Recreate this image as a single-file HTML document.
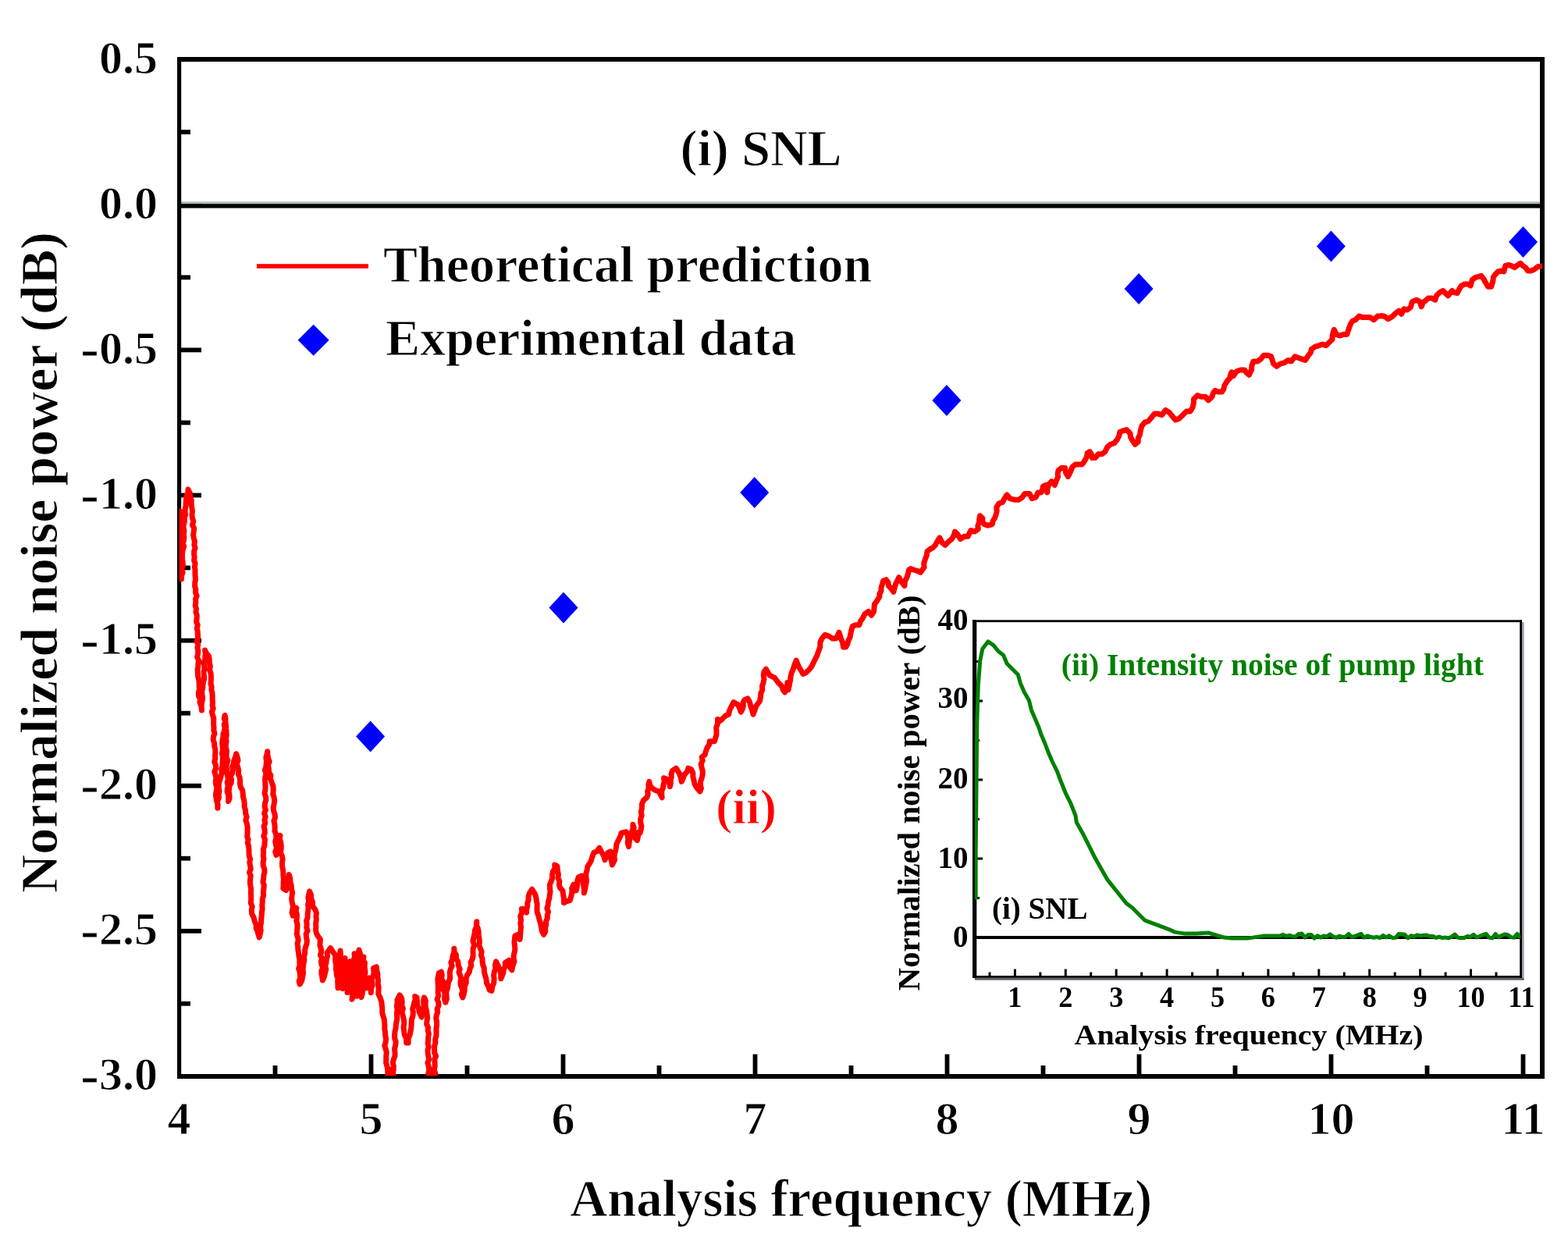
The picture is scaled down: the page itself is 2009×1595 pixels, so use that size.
<!DOCTYPE html>
<html><head><meta charset="utf-8"><title>Noise power plot</title>
<style>html,body{margin:0;padding:0;background:#fff;}svg{display:block;}</style></head>
<body><svg width="2009" height="1595" viewBox="0 0 2009 1595">
<rect x="0" y="0" width="2009" height="1595" fill="#ffffff"/>
<g fill="#000"><rect x="349.6" y="1365.0" width="5.8" height="14.0"/><rect x="472.6" y="1350.6" width="5.8" height="28.4"/><rect x="595.6" y="1365.0" width="5.8" height="14.0"/><rect x="718.6" y="1350.6" width="5.8" height="28.4"/><rect x="841.6" y="1365.0" width="5.8" height="14.0"/><rect x="964.6" y="1350.6" width="5.8" height="28.4"/><rect x="1087.6" y="1365.0" width="5.8" height="14.0"/><rect x="1210.6" y="1350.6" width="5.8" height="28.4"/><rect x="1333.6" y="1365.0" width="5.8" height="14.0"/><rect x="1456.6" y="1350.6" width="5.8" height="28.4"/><rect x="1579.6" y="1365.0" width="5.8" height="14.0"/><rect x="1702.6" y="1350.6" width="5.8" height="28.4"/><rect x="1825.6" y="1365.0" width="5.8" height="14.0"/><rect x="1948.6" y="1350.6" width="5.8" height="28.4"/><rect x="229" y="73.3" width="29" height="5.8"/><rect x="229" y="166.3" width="15" height="5.8"/><rect x="229" y="259.4" width="29" height="5.8"/><rect x="229" y="352.5" width="15" height="5.8"/><rect x="229" y="445.5" width="29" height="5.8"/><rect x="229" y="538.6" width="15" height="5.8"/><rect x="229" y="631.6" width="29" height="5.8"/><rect x="229" y="724.6" width="15" height="5.8"/><rect x="229" y="817.7" width="29" height="5.8"/><rect x="229" y="910.8" width="15" height="5.8"/><rect x="229" y="1003.8" width="29" height="5.8"/><rect x="229" y="1096.8" width="15" height="5.8"/><rect x="229" y="1189.9" width="29" height="5.8"/><rect x="229" y="1282.9" width="15" height="5.8"/><rect x="229" y="1376.0" width="29" height="5.8"/></g>
<rect x="229" y="258.3" width="1747" height="3" fill="#a9bdbd"/>
<rect x="229" y="261.2" width="1747" height="5.4" fill="#000"/>
<g fill="#000"><rect x="227" y="73" width="5.2" height="1309"/><rect x="1973" y="73" width="6" height="1309"/><rect x="227" y="73" width="1752" height="6"/><rect x="227" y="1376" width="1752" height="6"/></g>
<clipPath id="cp"><rect x="229.6" y="76" width="1746.4" height="1302.2"/></clipPath>
<path d="M230.5,655.0 L231.0,659.1 L231.5,663.2 L230.4,667.3 L231.9,671.3 L230.9,675.5 L231.4,679.5 L232.2,683.6 L231.2,687.7 L232.4,691.8 L231.6,695.9 L231.5,700.0 L232.6,704.2 L232.7,708.4 L232.0,712.6 L231.1,716.8 L232.9,721.0 L232.8,725.2 L231.9,729.4 L231.2,733.6 L232.2,737.8 L232.5,742.0 L232.6,737.6 L234.2,733.3 L232.3,728.7 L234.6,724.5 L234.0,720.0 L233.7,716.0 L233.5,712.0 L233.7,708.0 L234.3,704.0 L235.7,700.0 L234.4,696.0 L235.5,692.0 L235.9,688.0 L235.4,684.0 L236.0,680.0 L235.1,675.9 L235.3,671.9 L236.5,668.0 L236.1,663.9 L237.5,660.0 L237.2,656.0 L237.2,652.0 L238.1,648.0 L238.1,644.0 L238.5,640.0 L238.9,635.6 L240.9,631.5 L241.0,627.0 L243.5,632.0 L243.6,636.7 L245.3,641.1 L245.1,645.8 L245.8,650.4 L246.5,655.0 L245.9,659.4 L246.5,663.8 L247.8,668.1 L246.3,672.6 L248.7,676.8 L248.2,681.2 L247.6,685.7 L248.5,690.0 L249.5,694.0 L248.8,698.0 L250.1,702.0 L248.7,706.0 L248.6,710.0 L249.2,714.0 L248.6,718.0 L250.1,722.0 L249.4,726.0 L250.0,730.0 L249.9,734.2 L250.1,738.3 L250.5,742.5 L249.7,746.7 L249.6,750.9 L250.8,755.0 L250.5,759.2 L252.1,763.3 L250.6,767.5 L250.9,771.7 L250.2,775.9 L251.5,780.0 L250.9,784.2 L252.3,788.3 L252.1,792.5 L251.6,796.7 L253.3,800.8 L252.3,805.0 L253.2,809.1 L253.4,813.3 L253.7,817.5 L252.1,821.7 L253.8,825.8 L253.0,830.0 L253.8,834.0 L253.6,838.0 L252.6,842.0 L254.6,846.0 L253.9,850.0 L253.8,854.0 L253.1,858.0 L253.4,862.0 L253.5,866.0 L254.5,870.0 L255.2,874.3 L255.1,878.6 L255.5,882.8 L254.4,887.2 L254.5,891.5 L256.6,895.7 L256.0,900.0 L258.0,904.8 L258.5,910.0 L258.1,905.9 L258.3,901.9 L259.1,897.8 L259.6,893.8 L259.0,889.7 L258.6,885.6 L259.8,881.6 L259.9,877.6 L260.6,873.5 L261.7,869.5 L261.3,865.4 L261.1,861.4 L261.6,857.3 L261.9,853.3 L260.7,849.2 L262.9,845.2 L262.8,841.1 L263.3,837.1 L262.6,833.0 L264.5,837.2 L267.6,840.6 L268.2,845.0 L268.4,849.4 L269.4,853.7 L268.5,858.2 L270.1,862.5 L270.4,866.9 L270.4,871.3 L270.0,875.7 L271.1,879.7 L270.9,883.7 L271.9,887.7 L272.2,891.6 L272.1,895.7 L272.5,899.7 L272.1,903.7 L273.2,907.7 L271.4,911.8 L272.3,915.8 L273.7,919.7 L273.7,923.7 L273.7,927.8 L274.0,931.8 L273.9,935.8 L275.0,939.8 L273.4,943.9 L273.2,947.9 L274.6,951.9 L274.7,955.9 L275.8,959.9 L275.9,964.0 L275.5,968.0 L275.8,972.0 L274.6,976.1 L276.4,980.1 L276.8,984.1 L274.8,988.2 L275.9,992.2 L277.0,996.2 L276.3,1000.3 L276.5,1004.6 L278.0,1008.9 L277.2,1013.4 L276.4,1017.9 L277.0,1022.2 L277.7,1026.6 L279.1,1030.9 L278.8,1035.3 L278.8,1030.9 L278.6,1026.5 L280.4,1022.2 L280.1,1017.8 L281.0,1013.5 L280.3,1009.0 L280.3,1004.6 L281.3,1000.3 L282.9,995.4 L284.1,990.4 L283.8,985.2 L284.9,981.2 L285.0,977.1 L285.3,973.1 L285.4,969.0 L284.4,964.9 L285.4,960.9 L285.2,956.8 L284.7,952.7 L284.9,948.7 L285.8,944.6 L286.0,940.6 L287.3,936.6 L288.2,932.6 L287.2,928.4 L288.6,924.5 L289.0,920.4 L288.1,916.3 L287.2,920.6 L288.9,924.7 L289.5,928.9 L289.7,933.2 L290.0,937.4 L290.3,941.6 L289.5,945.9 L290.1,950.1 L289.2,954.2 L289.5,958.2 L290.5,962.2 L290.2,966.2 L290.0,970.3 L291.9,974.2 L290.6,978.3 L290.1,982.3 L290.6,986.4 L290.8,990.4 L291.6,994.4 L292.4,998.4 L291.1,1002.4 L292.3,1006.4 L291.3,1010.5 L291.1,1014.5 L292.6,1018.5 L292.7,1022.5 L292.6,1026.6 L294.1,1022.7 L294.0,1018.7 L293.2,1014.5 L293.5,1010.5 L294.0,1006.5 L296.3,1002.8 L296.5,998.7 L295.4,994.6 L297.5,990.8 L298.3,986.8 L297.6,982.7 L299.2,978.6 L299.8,974.1 L301.5,970.0 L302.6,965.7 L304.1,969.9 L305.0,974.1 L303.4,978.8 L304.8,983.0 L305.7,987.3 L305.3,991.8 L307.1,995.9 L307.6,1000.3 L307.5,1004.4 L308.4,1008.4 L310.6,1012.2 L311.2,1016.2 L311.4,1020.3 L312.5,1024.6 L313.2,1029.0 L313.1,1033.5 L314.5,1037.8 L314.7,1042.2 L316.0,1046.5 L314.8,1051.1 L316.4,1055.4 L317.1,1059.4 L317.1,1063.5 L317.1,1067.6 L316.7,1071.8 L318.1,1075.7 L317.3,1079.9 L318.6,1083.9 L318.9,1088.0 L319.0,1092.2 L319.2,1096.5 L320.6,1100.6 L319.8,1104.9 L320.6,1109.1 L321.2,1113.4 L319.5,1117.7 L321.2,1121.9 L320.7,1126.1 L320.3,1130.4 L320.9,1134.6 L321.6,1138.8 L321.4,1143.1 L321.6,1147.7 L321.7,1152.3 L321.3,1156.9 L323.2,1161.4 L322.3,1166.1 L322.7,1170.7 L325.1,1175.5 L326.4,1180.7 L328.1,1184.6 L328.1,1188.9 L329.9,1192.7 L330.9,1196.8 L332.2,1200.8 L333.3,1196.2 L334.2,1191.7 L333.5,1187.0 L334.5,1182.4 L334.7,1177.8 L335.2,1173.2 L335.4,1168.9 L336.1,1164.5 L335.8,1160.2 L336.2,1155.9 L336.3,1151.5 L337.6,1147.3 L337.3,1142.9 L337.9,1138.6 L338.3,1134.3 L336.9,1129.9 L337.7,1125.6 L337.9,1121.4 L338.9,1117.2 L338.7,1113.0 L337.1,1108.8 L337.1,1104.7 L338.0,1100.5 L337.2,1096.3 L337.6,1092.1 L337.3,1088.0 L338.8,1083.8 L339.1,1079.6 L339.5,1075.5 L337.8,1071.2 L339.2,1067.1 L339.1,1062.9 L338.0,1058.7 L339.8,1054.6 L338.9,1050.4 L340.2,1046.2 L338.5,1041.9 L340.4,1037.7 L339.1,1033.5 L339.5,1029.2 L340.8,1025.0 L340.5,1020.8 L339.0,1016.5 L339.8,1012.3 L340.1,1008.1 L339.8,1003.8 L339.5,999.6 L339.9,995.4 L341.0,991.2 L339.4,986.9 L340.7,982.7 L341.2,978.7 L341.4,974.7 L340.8,970.6 L341.9,966.6 L342.7,962.7 L342.9,967.1 L343.6,971.4 L345.2,975.7 L343.4,980.3 L344.4,984.7 L344.4,989.1 L346.9,993.3 L346.5,997.7 L348.3,1002.6 L350.0,1007.5 L350.2,1012.8 L349.7,1017.1 L351.1,1021.4 L351.7,1025.7 L351.1,1030.1 L350.2,1034.5 L350.6,1038.8 L352.1,1043.1 L352.5,1047.4 L350.9,1051.8 L351.9,1056.1 L352.2,1060.4 L352.0,1064.8 L353.7,1069.1 L353.9,1073.5 L352.7,1078.0 L353.5,1082.3 L354.6,1086.7 L352.7,1091.2 L354.0,1095.5 L355.1,1091.4 L356.4,1087.3 L355.5,1082.8 L358.2,1078.9 L357.1,1074.4 L359.0,1070.4 L358.4,1074.9 L359.7,1079.2 L360.3,1083.6 L360.1,1088.0 L359.5,1092.4 L361.4,1096.7 L362.1,1101.1 L361.5,1105.5 L361.6,1109.6 L362.4,1113.6 L362.9,1117.7 L362.9,1121.8 L363.4,1125.8 L363.2,1129.9 L363.1,1134.0 L362.8,1138.1 L366.5,1140.6 L366.8,1136.5 L368.6,1132.7 L368.3,1128.5 L369.5,1124.6 L370.3,1120.6 L371.7,1125.0 L371.9,1129.7 L373.3,1134.2 L373.4,1138.8 L374.6,1143.4 L374.0,1148.1 L373.7,1152.3 L374.3,1156.5 L375.4,1160.6 L374.9,1164.8 L374.0,1169.1 L375.3,1173.2 L376.7,1167.8 L379.8,1163.2 L379.2,1167.4 L380.4,1171.5 L380.4,1175.7 L379.8,1179.9 L381.0,1184.0 L381.0,1188.2 L380.7,1192.4 L380.2,1196.6 L381.6,1200.8 L382.1,1204.7 L381.1,1208.8 L381.6,1212.8 L381.9,1216.8 L382.6,1220.8 L382.9,1224.8 L383.8,1228.8 L383.8,1232.8 L384.1,1236.8 L382.6,1240.9 L384.0,1244.8 L384.4,1248.8 L384.7,1252.8 L383.1,1256.9 L384.1,1260.9 L386.8,1256.2 L387.8,1250.9 L388.6,1246.7 L388.1,1242.5 L388.5,1238.3 L389.0,1234.1 L389.8,1230.0 L389.5,1225.7 L390.6,1221.6 L390.6,1217.4 L391.6,1213.3 L393.0,1209.2 L393.3,1205.0 L392.5,1200.8 L392.1,1196.5 L394.1,1192.5 L392.8,1188.2 L393.2,1184.0 L392.6,1179.8 L394.1,1175.7 L394.1,1171.4 L394.7,1167.2 L395.0,1163.0 L394.6,1158.7 L395.7,1154.5 L394.8,1150.2 L395.7,1146.0 L396.6,1141.9 L398.5,1146.4 L398.7,1151.2 L400.5,1155.7 L400.4,1160.7 L404.1,1165.7 L405.4,1169.9 L404.9,1174.2 L405.3,1178.5 L404.6,1182.9 L404.9,1187.1 L404.6,1191.5 L405.4,1195.7 L407.6,1199.7 L410.4,1203.3 L410.1,1207.3 L409.9,1211.4 L411.3,1215.4 L411.7,1219.4 L410.4,1223.6 L412.6,1227.5 L411.5,1231.6 L411.9,1235.7 L413.6,1239.6 L411.9,1243.8 L412.0,1247.8 L412.8,1251.9 L413.4,1255.9 L415.5,1251.1 L416.6,1245.9 L417.8,1241.8 L416.6,1237.4 L418.0,1233.3 L418.3,1229.2 L419.5,1225.1 L419.1,1220.8 L423.4,1214.5 L427.4,1220.8 L430.0,1224.0 L429.6,1228.2 L429.8,1232.4 L430.7,1236.5 L430.3,1240.8 L431.1,1244.9 L431.3,1249.1 L432.7,1253.2 L433.5,1257.3 L433.6,1261.5 L433.0,1265.8 L432.9,1261.4 L432.6,1257.0 L434.6,1252.8 L434.2,1248.4 L434.7,1244.1 L434.9,1239.7 L435.3,1235.4 L435.2,1231.0 L434.3,1226.6 L436.4,1222.4 L436.0,1218.0 L435.7,1222.1 L436.5,1226.1 L436.7,1230.1 L436.6,1234.2 L438.3,1238.1 L436.9,1242.3 L438.3,1246.3 L439.0,1250.3 L438.8,1254.3 L438.0,1258.5 L439.5,1262.4 L439.0,1266.5 L439.9,1262.2 L440.8,1257.9 L440.0,1253.5 L440.1,1249.1 L440.6,1244.8 L441.4,1240.5 L442.0,1236.2 L441.9,1231.8 L442.0,1227.4 L441.9,1231.5 L443.6,1235.4 L443.7,1239.4 L443.7,1243.4 L442.8,1247.5 L444.1,1251.4 L443.7,1255.5 L445.3,1259.4 L445.5,1263.4 L445.3,1267.5 L445.0,1271.5 L445.7,1267.1 L446.1,1262.7 L446.4,1258.3 L445.8,1253.8 L446.7,1249.4 L446.9,1245.0 L447.3,1240.5 L446.8,1236.1 L448.0,1231.7 L447.3,1235.8 L449.2,1239.8 L447.6,1243.9 L448.0,1248.0 L450.4,1251.9 L449.6,1256.0 L449.0,1260.1 L448.9,1264.1 L450.4,1268.1 L451.1,1272.1 L451.4,1276.2 L451.0,1280.2 L452.3,1276.1 L450.7,1271.8 L451.8,1267.7 L451.0,1263.5 L452.1,1259.3 L453.4,1255.2 L451.6,1250.9 L453.5,1246.8 L452.9,1242.6 L454.1,1238.5 L453.8,1234.2 L452.9,1230.0 L454.7,1225.9 L454.0,1221.7 L454.3,1225.9 L455.6,1230.0 L455.9,1234.2 L454.9,1238.5 L455.3,1242.7 L455.9,1246.8 L456.5,1251.0 L456.2,1255.2 L456.5,1259.4 L455.5,1263.7 L457.7,1267.8 L456.2,1272.1 L457.0,1276.2 L458.0,1272.1 L456.5,1267.7 L458.7,1263.6 L458.4,1259.3 L459.0,1255.1 L457.8,1250.8 L458.2,1246.6 L458.5,1242.4 L460.1,1238.2 L459.4,1233.9 L459.0,1229.7 L459.4,1225.5 L459.2,1221.2 L460.0,1217.0 L461.3,1221.0 L461.4,1225.0 L459.8,1229.1 L461.3,1233.1 L460.0,1237.2 L461.8,1241.2 L462.0,1245.2 L461.6,1249.3 L462.5,1253.3 L462.3,1257.3 L461.1,1261.4 L461.5,1265.4 L461.9,1269.5 L462.5,1273.5 L463.0,1277.5 L464.2,1273.3 L464.6,1269.0 L463.9,1264.6 L464.5,1260.3 L463.2,1255.9 L465.1,1251.7 L464.6,1247.4 L465.6,1243.1 L465.6,1238.8 L465.0,1234.4 L464.7,1230.1 L466.0,1225.9 L465.3,1229.9 L467.5,1233.8 L467.0,1237.9 L467.6,1241.9 L468.0,1245.9 L467.2,1250.0 L467.0,1254.0 L469.0,1257.9 L468.3,1262.0 L469.0,1266.0 L469.8,1261.5 L471.7,1257.3 L472.9,1252.9 L473.8,1257.5 L474.9,1262.2 L475.5,1266.9 L475.3,1271.7 L475.0,1267.1 L477.1,1262.8 L476.6,1258.2 L476.4,1253.7 L478.5,1249.4 L479.1,1244.9 L478.4,1240.3 L482.3,1238.7 L482.7,1243.0 L483.8,1247.3 L483.9,1251.6 L484.5,1255.9 L484.2,1260.3 L485.1,1264.5 L485.0,1268.9 L484.7,1273.2 L487.0,1277.9 L488.8,1283.3 L489.4,1288.9 L489.8,1293.0 L489.7,1297.2 L490.7,1301.2 L492.1,1305.2 L492.5,1309.3 L492.9,1313.6 L492.8,1317.9 L493.4,1322.2 L493.7,1326.5 L494.5,1330.8 L494.2,1335.1 L492.8,1339.5 L494.1,1343.8 L495.3,1348.1 L494.8,1352.5 L494.8,1357.0 L494.6,1361.4 L495.8,1365.7 L496.7,1370.4 L496.8,1375.1 L497.1,1379.8 L496.7,1384.5 L497.0,1379.8 L497.7,1375.1 L498.3,1370.4 L497.7,1375.2 L498.5,1379.9 L499.9,1384.5 L501.3,1379.9 L499.8,1375.0 L501.4,1370.4 L503.1,1375.0 L502.0,1379.9 L503.0,1384.5 L504.3,1379.9 L503.6,1375.1 L504.2,1370.4 L504.3,1365.7 L503.3,1361.2 L504.5,1356.9 L506.0,1352.6 L506.0,1348.2 L505.5,1343.8 L506.6,1339.4 L507.2,1334.9 L505.7,1330.4 L505.6,1325.9 L506.0,1321.5 L507.1,1317.1 L507.3,1313.1 L507.9,1309.1 L508.8,1305.2 L508.5,1301.1 L508.5,1297.1 L509.0,1293.1 L508.4,1289.1 L508.9,1285.1 L509.0,1281.1 L512.1,1274.8 L514.7,1279.1 L515.2,1284.2 L514.8,1288.3 L516.4,1292.2 L515.0,1296.3 L515.9,1300.2 L517.0,1304.2 L517.7,1308.2 L517.7,1312.2 L517.0,1316.3 L517.6,1320.3 L518.2,1325.6 L520.6,1330.5 L520.7,1335.9 L523.1,1335.9 L523.1,1330.5 L525.2,1325.5 L526.2,1320.3 L527.0,1315.6 L527.2,1310.8 L527.4,1306.1 L529.0,1301.5 L529.3,1296.7 L528.6,1292.5 L529.8,1288.5 L530.7,1284.5 L532.3,1280.6 L531.7,1276.4 L534.0,1277.9 L534.5,1282.7 L534.7,1287.5 L536.5,1292.0 L537.2,1296.7 L540.3,1303.0 L540.2,1298.8 L540.8,1294.6 L543.0,1290.6 L542.9,1286.4 L542.5,1282.1 L543.4,1277.9 L545.4,1282.0 L545.0,1286.6 L545.4,1290.9 L546.6,1295.2 L547.0,1299.3 L547.7,1303.5 L547.0,1307.7 L546.6,1312.0 L548.5,1316.0 L548.2,1320.3 L549.4,1324.4 L548.7,1328.5 L548.6,1332.6 L548.1,1336.8 L549.3,1340.9 L548.0,1345.1 L548.2,1349.2 L548.8,1353.3 L549.6,1357.4 L547.9,1361.6 L549.1,1365.7 L549.8,1370.4 L548.8,1375.1 L550.4,1379.8 L550.0,1384.5 L549.9,1379.7 L551.7,1375.2 L551.6,1370.4 L552.6,1375.1 L551.6,1379.9 L553.2,1384.5 L553.7,1379.8 L553.5,1375.0 L554.7,1370.4 L555.9,1375.0 L556.0,1379.8 L556.3,1384.5 L556.9,1379.8 L557.8,1375.2 L556.2,1370.4 L557.2,1365.7 L557.1,1361.4 L556.7,1357.2 L558.6,1353.0 L556.7,1348.7 L556.6,1344.4 L556.7,1340.2 L557.9,1335.9 L557.7,1331.4 L559.0,1327.0 L559.1,1322.5 L558.9,1318.0 L559.6,1313.6 L559.6,1309.1 L558.7,1304.6 L559.3,1300.6 L560.7,1296.7 L560.1,1292.5 L562.0,1288.4 L561.7,1284.2 L560.1,1280.0 L561.7,1275.9 L561.2,1271.7 L561.3,1267.5 L561.3,1263.3 L561.1,1259.1 L560.8,1254.9 L561.6,1250.7 L562.3,1246.6 L565.4,1245.0 L566.3,1249.3 L565.5,1253.8 L568.0,1257.8 L567.7,1262.3 L567.3,1266.8 L569.7,1270.9 L570.0,1275.4 L569.5,1279.9 L570.9,1284.2 L572.3,1279.9 L572.0,1275.4 L571.7,1270.9 L573.3,1266.6 L574.0,1262.3 L574.5,1258.0 L576.6,1254.1 L576.4,1249.7 L576.3,1245.5 L577.3,1241.5 L579.2,1237.6 L577.8,1233.2 L579.5,1229.3 L580.1,1224.6 L581.8,1220.1 L581.8,1215.2 L582.0,1219.5 L584.5,1223.4 L584.2,1227.8 L586.8,1232.1 L587.3,1237.2 L589.2,1241.2 L587.9,1245.7 L589.7,1249.7 L590.7,1253.7 L590.0,1257.8 L590.1,1261.9 L591.9,1265.8 L592.5,1269.8 L591.3,1274.0 L592.8,1277.9 L594.3,1273.3 L595.2,1268.5 L595.4,1263.7 L597.3,1259.2 L597.1,1254.3 L598.3,1249.7 L601.4,1245.0 L602.1,1240.9 L603.8,1237.2 L603.1,1232.7 L605.3,1228.5 L606.2,1224.1 L606.0,1219.7 L606.1,1215.2 L607.7,1210.6 L605.9,1205.7 L606.9,1201.1 L608.0,1196.4 L608.5,1191.7 L610.7,1186.5 L610.8,1180.8 L610.4,1185.2 L612.3,1189.3 L613.2,1193.6 L613.2,1198.0 L614.0,1202.3 L614.4,1206.6 L613.9,1211.1 L615.5,1215.2 L617.1,1219.3 L616.4,1223.7 L617.9,1227.8 L618.1,1232.1 L618.7,1236.3 L620.3,1240.3 L620.4,1245.1 L621.6,1249.8 L623.0,1254.4 L623.4,1259.1 L625.7,1263.7 L627.3,1268.5 L630.0,1269.4 L630.7,1264.1 L632.8,1259.1 L633.1,1253.8 L632.6,1249.3 L633.4,1244.9 L635.1,1240.7 L634.4,1236.1 L635.5,1231.8 L638.6,1238.1 L640.7,1243.1 L641.8,1248.3 L641.8,1253.8 L643.4,1249.9 L644.9,1245.9 L645.3,1241.7 L647.6,1237.8 L647.2,1233.4 L651.9,1230.3 L652.4,1234.7 L653.4,1239.0 L655.9,1242.8 L656.9,1237.1 L659.0,1231.8 L658.1,1227.7 L658.2,1223.6 L659.3,1219.5 L659.9,1215.4 L659.4,1211.2 L658.9,1207.1 L659.5,1203.0 L659.8,1198.9 L663.7,1197.3 L666.1,1203.6 L666.5,1199.5 L666.8,1195.5 L667.1,1191.4 L667.5,1187.3 L666.8,1183.2 L667.6,1178.6 L666.7,1173.7 L668.8,1169.2 L668.4,1164.4 L671.5,1164.4 L674.7,1169.1 L674.6,1165.0 L675.8,1161.0 L675.8,1156.9 L677.1,1152.9 L677.0,1148.7 L678.7,1143.7 L681.7,1139.3 L685.6,1145.6 L686.8,1149.8 L687.4,1154.1 L688.2,1158.4 L688.0,1162.9 L688.1,1168.3 L689.9,1173.3 L691.1,1178.5 L692.6,1183.1 L693.5,1187.9 L694.3,1192.6 L696.6,1197.3 L698.8,1193.4 L698.7,1189.0 L699.7,1184.8 L699.5,1180.6 L701.3,1176.5 L701.3,1172.3 L702.5,1168.2 L700.8,1163.8 L702.1,1159.7 L702.5,1155.3 L703.8,1151.0 L704.3,1146.6 L705.0,1142.3 L704.5,1137.8 L704.4,1133.3 L706.1,1129.3 L707.6,1125.2 L707.5,1120.8 L708.4,1116.5 L711.1,1112.5 L710.7,1108.0 L713.9,1109.6 L714.4,1115.1 L715.4,1120.5 L715.0,1125.0 L716.9,1129.1 L716.3,1133.6 L717.8,1137.8 L720.9,1140.9 L721.6,1146.1 L722.5,1151.3 L722.5,1156.6 L725.6,1155.0 L730.3,1153.4 L731.8,1148.3 L732.9,1143.2 L732.7,1137.8 L735.0,1133.1 L737.5,1136.6 L738.2,1140.9 L739.2,1136.6 L740.0,1132.3 L739.8,1127.9 L741.3,1123.7 L745.2,1122.1 L746.1,1126.4 L747.3,1130.8 L747.8,1135.2 L748.3,1139.6 L748.3,1144.0 L749.7,1138.6 L750.7,1133.1 L751.5,1128.4 L750.9,1123.6 L750.9,1118.8 L752.2,1114.2 L753.0,1109.6 L755.4,1106.4 L757.4,1102.7 L758.5,1098.6 L760.9,1092.3 L764.8,1090.8 L767.9,1086.1 L771.1,1092.3 L773.7,1096.7 L775.0,1101.7 L776.5,1096.8 L778.9,1092.3 L782.0,1090.8 L783.3,1095.0 L782.5,1099.5 L783.7,1103.7 L784.4,1108.0 L787.5,1101.7 L787.0,1097.5 L787.5,1093.5 L788.7,1089.5 L789.5,1085.4 L789.9,1081.3 L793.0,1075.1 L794.9,1071.3 L796.1,1067.2 L802.4,1065.7 L804.2,1070.2 L804.8,1074.9 L804.3,1079.9 L805.5,1084.5 L806.1,1080.1 L806.6,1075.8 L807.4,1071.5 L808.7,1067.2 L810.9,1062.0 L811.0,1056.3 L812.1,1060.5 L812.1,1064.9 L813.1,1069.2 L813.4,1073.5 L816.5,1076.6 L817.5,1071.1 L818.9,1065.7 L820.0,1067.3 L821.2,1062.9 L821.9,1058.4 L820.7,1053.8 L820.6,1049.3 L822.2,1044.9 L821.3,1040.3 L822.4,1035.9 L822.4,1030.2 L824.7,1025.0 L828.6,1021.8 L830.2,1017.9 L829.7,1013.6 L831.3,1009.7 L830.9,1005.5 L831.8,1001.4 L832.5,1005.7 L834.9,1009.3 L839.6,1012.4 L844.3,1014.0 L846.3,1017.9 L848.2,1021.8 L847.8,1017.6 L847.8,1013.4 L849.5,1009.3 L850.1,1005.1 L851.2,1001.0 L850.6,996.7 L854.5,998.3 L857.4,1002.6 L858.4,1007.7 L859.3,1003.7 L859.3,999.5 L860.3,995.5 L860.1,991.3 L861.5,987.3 L866.2,984.2 L870.2,990.5 L872.2,995.8 L873.3,1001.4 L875.3,996.8 L877.2,992.0 L880.4,988.6 L881.9,984.2 L885.8,985.8 L887.8,990.3 L887.9,995.2 L889.0,999.9 L890.2,1004.9 L892.9,1009.3 L896.8,1014.0 L898.5,1009.8 L897.3,1005.3 L897.7,1000.9 L899.2,996.7 L900.2,992.3 L900.3,987.9 L899.1,983.4 L898.1,979.0 L900.2,974.5 L899.2,970.1 L903.1,967.0 L904.4,962.2 L906.2,957.6 L908.7,954.0 L909.3,949.7 L915.6,949.7 L916.7,945.6 L917.9,941.5 L918.0,937.2 L917.7,931.9 L919.7,926.8 L919.5,921.5 L923.4,923.1 L926.6,919.9 L929.7,916.8 L933.6,915.2 L934.6,910.3 L936.8,905.8 L939.9,899.6 L945.4,902.7 L947.6,907.3 L949.3,912.1 L951.3,908.4 L952.4,904.5 L952.1,900.1 L954.0,896.4 L957.9,894.9 L960.5,899.3 L961.8,904.3 L963.6,909.7 L965.0,915.2 L967.0,909.8 L968.9,904.3 L973.6,898.0 L974.4,893.2 L974.8,888.4 L976.7,883.9 L976.5,879.1 L978.1,874.5 L978.9,869.9 L978.3,865.1 L978.9,860.8 L981.4,857.2 L983.7,861.2 L986.1,865.1 L992.4,868.2 L997.1,874.5 L1001.8,879.2 L1003.2,883.4 L1005.7,887.0 L1005.7,882.6 L1008.6,878.9 L1008.9,874.5 L1010.3,879.0 L1010.0,883.8 L1011.0,879.5 L1011.7,875.2 L1012.7,870.9 L1013.1,866.5 L1014.3,861.7 L1016.3,857.1 L1018.0,851.6 L1020.2,846.1 L1022.0,850.9 L1024.1,855.5 L1026.6,859.4 L1028.8,863.4 L1032.7,861.8 L1037.4,857.1 L1040.1,853.4 L1042.1,849.3 L1044.4,844.5 L1046.8,839.9 L1048.7,834.3 L1050.8,828.9 L1050.8,823.2 L1053.1,817.9 L1057.0,813.2 L1061.7,814.8 L1066.4,817.9 L1071.1,817.9 L1073.3,814.1 L1075.0,810.1 L1076.2,814.0 L1077.4,817.9 L1079.6,823.2 L1080.5,828.9 L1083.7,828.9 L1085.8,825.2 L1086.8,821.1 L1089.0,816.6 L1089.9,811.7 L1091.0,806.9 L1092.3,802.3 L1096.2,800.7 L1100.9,800.7 L1102.2,796.4 L1104.8,792.9 L1108.0,786.6 L1112.7,783.4 L1116.6,788.2 L1119.7,783.4 L1120.0,778.7 L1120.5,774.0 L1122.9,770.9 L1126.8,764.6 L1127.0,760.5 L1129.1,756.8 L1129.0,752.5 L1130.5,748.4 L1131.5,744.3 L1135.4,742.7 L1137.9,746.3 L1138.5,750.5 L1141.7,753.7 L1144.8,758.4 L1146.2,752.8 L1147.9,747.4 L1149.9,743.5 L1151.8,739.6 L1154.2,744.3 L1158.9,750.5 L1159.4,744.7 L1162.0,739.6 L1163.5,734.9 L1164.4,730.2 L1166.7,728.6 L1171.4,730.2 L1176.1,731.7 L1179.3,733.3 L1184.0,727.0 L1183.8,721.4 L1185.5,716.1 L1187.3,711.5 L1187.9,706.6 L1191.8,703.5 L1195.0,701.9 L1198.1,698.8 L1200.0,695.2 L1203.9,688.9 L1207.1,695.2 L1211.0,698.3 L1215.7,693.6 L1219.6,690.5 L1222.2,686.0 L1223.5,681.1 L1226.6,684.2 L1230.6,690.5 L1235.3,687.3 L1240.0,687.3 L1242.0,683.4 L1243.9,679.5 L1248.6,681.1 L1253.3,677.9 L1252.8,673.5 L1254.5,669.3 L1254.8,665.0 L1255.6,660.7 L1258.8,663.8 L1258.9,668.1 L1261.1,671.7 L1265.8,673.2 L1271.3,671.7 L1272.1,667.4 L1274.5,663.8 L1276.1,659.3 L1277.2,654.6 L1276.8,649.7 L1279.9,645.0 L1284.6,643.4 L1287.0,638.7 L1290.1,634.0 L1294.0,638.7 L1300.3,640.3 L1305.0,640.3 L1309.7,637.2 L1312.9,632.5 L1319.1,632.5 L1322.3,638.7 L1327.0,637.2 L1330.1,630.9 L1334.0,630.9 L1335.7,627.2 L1336.4,623.1 L1339.5,621.5 L1339.9,626.4 L1341.8,630.9 L1342.3,625.3 L1344.2,619.9 L1347.3,616.8 L1351.3,621.5 L1353.6,615.2 L1355.5,611.3 L1355.2,606.9 L1356.0,602.7 L1359.9,599.6 L1364.6,599.6 L1365.5,605.4 L1368.5,610.5 L1371.6,604.3 L1374.0,598.0 L1377.9,594.9 L1381.8,594.9 L1386.5,594.9 L1388.9,591.7 L1390.0,589.7 L1392.5,585.3 L1393.1,580.3 L1396.3,578.7 L1398.6,582.3 L1399.4,586.5 L1403.3,586.5 L1407.2,581.8 L1411.9,581.8 L1415.9,578.7 L1419.0,572.4 L1422.9,569.3 L1427.6,567.7 L1431.5,563.0 L1433.8,558.5 L1434.7,553.6 L1438.6,552.0 L1443.3,550.5 L1448.0,555.2 L1448.6,560.2 L1451.1,564.6 L1454.3,569.3 L1458.2,566.1 L1458.3,561.2 L1460.5,556.7 L1461.4,551.2 L1462.9,545.8 L1466.8,541.1 L1471.5,539.5 L1475.4,534.8 L1479.3,530.1 L1484.0,530.1 L1488.7,531.7 L1493.4,525.4 L1498.2,528.5 L1502.1,533.2 L1506.0,537.9 L1510.7,536.4 L1515.4,531.7 L1520.1,527.0 L1524.8,527.0 L1527.9,522.3 L1529.3,516.9 L1529.5,511.3 L1534.2,506.6 L1538.9,508.2 L1544.4,508.2 L1548.3,512.9 L1553.0,508.2 L1554.2,503.9 L1556.9,500.3 L1560.8,501.9 L1565.5,501.9 L1568.0,498.3 L1568.7,494.0 L1572.6,487.8 L1575.7,484.6 L1576.4,480.6 L1578.1,476.8 L1580.0,481.8 L1584.7,475.5 L1589.4,474.0 L1594.9,474.0 L1597.1,477.6 L1600.4,480.3 L1603.5,474.0 L1603.9,468.3 L1605.9,463.0 L1611.3,463.0 L1615.3,459.9 L1619.2,455.2 L1623.9,455.2 L1628.6,456.7 L1630.2,461.4 L1631.7,466.1 L1635.6,469.3 L1640.3,466.1 L1645.8,464.6 L1650.5,461.4 L1654.5,463.0 L1659.2,456.7 L1663.1,458.3 L1667.8,459.9 L1672.5,461.4 L1676.4,455.2 L1679.3,451.7 L1680.3,447.3 L1685.0,444.2 L1690.5,442.6 L1694.4,441.1 L1699.1,442.6 L1703.8,437.9 L1707.0,434.8 L1707.1,430.5 L1708.0,426.3 L1709.3,422.3 L1712.4,428.5 L1716.4,430.1 L1721.1,428.5 L1725.8,428.5 L1727.3,423.8 L1728.9,419.1 L1730.5,415.0 L1732.8,411.3 L1736.7,409.7 L1741.4,405.0 L1746.1,406.6 L1750.8,406.6 L1755.5,406.6 L1760.3,409.7 L1765.0,405.0 L1768.9,405.0 L1770.0,404.5 L1774.3,405.5 L1778.5,408.7 L1783.9,405.5 L1788.1,401.3 L1792.4,398.1 L1795.6,402.3 L1798.8,395.9 L1803.0,397.0 L1807.3,393.8 L1809.4,386.4 L1814.8,384.2 L1819.0,386.4 L1821.2,392.8 L1823.3,387.4 L1826.5,385.3 L1829.7,382.1 L1835.0,382.1 L1838.8,384.2 L1840.4,378.9 L1844.6,374.6 L1848.9,372.5 L1852.1,375.7 L1855.3,378.9 L1858.5,374.6 L1860.6,372.5 L1862.8,374.6 L1867.0,375.7 L1869.7,370.4 L1872.3,366.1 L1876.6,364.0 L1880.9,364.0 L1884.1,366.1 L1886.2,358.6 L1890.5,355.4 L1894.7,354.4 L1897.9,353.3 L1901.1,357.6 L1903.3,361.8 L1906.5,367.2 L1910.7,367.2 L1912.9,359.7 L1913.4,355.0 L1916.1,351.2 L1919.3,348.0 L1923.5,346.9 L1926.7,348.0 L1928.8,340.5 L1933.1,339.4 L1936.3,340.5 L1940.6,342.6 L1944.8,339.4 L1948.0,337.3 L1951.2,340.5 L1954.4,342.6 L1957.6,346.9 L1961.9,346.9 L1966.2,344.8 L1970.4,341.6 L1974.7,341.0 L1977.9,341.0" fill="none" stroke="#ff0000" stroke-width="7" stroke-linejoin="round" stroke-linecap="round" clip-path="url(#cp)"/>
<g fill="#0000ff"><path d="M474.6,923.6 L493.1,943.6 L474.6,963.6 L456.1,943.6 Z"/><path d="M722.0,758.5 L740.5,778.5 L722.0,798.5 L703.5,778.5 Z"/><path d="M966.7,610.9 L985.2,630.9 L966.7,650.9 L948.2,630.9 Z"/><path d="M1212.9,492.9 L1231.4,512.9 L1212.9,532.9 L1194.4,512.9 Z"/><path d="M1459.1,349.9 L1477.6,369.9 L1459.1,389.9 L1440.6,369.9 Z"/><path d="M1705.4,295.6 L1723.9,315.6 L1705.4,335.6 L1686.9,315.6 Z"/><path d="M1951.5,289.9 L1970.0,309.9 L1951.5,329.9 L1933.0,309.9 Z"/><path d="M401.6,415.7 L421.6,435.7 L401.6,455.7 L381.6,435.7 Z"/></g>
<rect x="329" y="338.2" width="143" height="5.6" fill="#ff0000"/>
<g font-family="Liberation Serif, Times New Roman, serif" font-weight="bold" stroke="#fff" stroke-width="1" font-size="60" fill="#000"><text x="202" y="93.6" text-anchor="end">0.5</text><text x="202" y="279.7" text-anchor="end">0.0</text><text x="202" y="465.8" text-anchor="end"><tspan font-size="72" dy="4.6">-</tspan><tspan dy="-4.6">0.5</tspan></text><text x="202" y="651.9" text-anchor="end"><tspan font-size="72" dy="4.6">-</tspan><tspan dy="-4.6">1.0</tspan></text><text x="202" y="838.0" text-anchor="end"><tspan font-size="72" dy="4.6">-</tspan><tspan dy="-4.6">1.5</tspan></text><text x="202" y="1024.1" text-anchor="end"><tspan font-size="72" dy="4.6">-</tspan><tspan dy="-4.6">2.0</tspan></text><text x="202" y="1210.2" text-anchor="end"><tspan font-size="72" dy="4.6">-</tspan><tspan dy="-4.6">2.5</tspan></text><text x="202" y="1396.3" text-anchor="end"><tspan font-size="72" dy="4.6">-</tspan><tspan dy="-4.6">3.0</tspan></text><text x="229.5" y="1453" text-anchor="middle">4</text><text x="475.5" y="1453" text-anchor="middle">5</text><text x="721.5" y="1453" text-anchor="middle">6</text><text x="967.5" y="1453" text-anchor="middle">7</text><text x="1213.5" y="1453" text-anchor="middle">8</text><text x="1459.5" y="1453" text-anchor="middle">9</text><text x="1705.5" y="1453" text-anchor="middle">10</text><text x="1951.5" y="1453" text-anchor="middle">11</text></g>
<text font-family="Liberation Serif, Times New Roman, serif" font-weight="bold" stroke="#fff" stroke-width="1" font-size="66.6" x="1103.2" y="1557.5" text-anchor="middle" fill="#000">Analysis frequency (MHz)</text>
<text font-family="Liberation Serif, Times New Roman, serif" font-weight="bold" stroke="#fff" stroke-width="1" font-size="68" transform="translate(73,720.5) rotate(-90)" text-anchor="middle" fill="#000">Normalized noise power (dB)</text>
<text font-family="Liberation Serif, Times New Roman, serif" font-weight="bold" stroke="#fff" stroke-width="1" font-size="66" x="975" y="211.6" text-anchor="middle" fill="#000">(i) SNL</text>
<text font-family="Liberation Serif, Times New Roman, serif" font-weight="bold" stroke="#fff" stroke-width="1" font-size="66" x="491" y="361.4" fill="#000">Theoretical prediction</text>
<text font-family="Liberation Serif, Times New Roman, serif" font-weight="bold" stroke="#fff" stroke-width="1" font-size="66" x="494" y="455.3" fill="#000">Experimental data</text>
<text font-family="Liberation Serif, Times New Roman, serif" font-weight="bold" stroke="#fff" stroke-width="1" font-size="64" x="956" y="1054.7" text-anchor="middle" fill="#ff0000">(ii)</text>
<g fill="#000"><rect x="1266.5" y="1245.5" width="3" height="4.5"/><rect x="1298.9" y="1241.5" width="3" height="8.5"/><rect x="1331.4" y="1245.5" width="3" height="4.5"/><rect x="1363.8" y="1241.5" width="3" height="8.5"/><rect x="1396.2" y="1245.5" width="3" height="4.5"/><rect x="1428.7" y="1241.5" width="3" height="8.5"/><rect x="1461.2" y="1245.5" width="3" height="4.5"/><rect x="1493.6" y="1241.5" width="3" height="8.5"/><rect x="1526.1" y="1245.5" width="3" height="4.5"/><rect x="1558.5" y="1241.5" width="3" height="8.5"/><rect x="1591.0" y="1245.5" width="3" height="4.5"/><rect x="1623.4" y="1241.5" width="3" height="8.5"/><rect x="1655.9" y="1245.5" width="3" height="4.5"/><rect x="1688.3" y="1241.5" width="3" height="8.5"/><rect x="1720.8" y="1245.5" width="3" height="4.5"/><rect x="1753.2" y="1241.5" width="3" height="8.5"/><rect x="1785.7" y="1245.5" width="3" height="4.5"/><rect x="1818.1" y="1241.5" width="3" height="8.5"/><rect x="1850.6" y="1245.5" width="3" height="4.5"/><rect x="1883.0" y="1241.5" width="3" height="8.5"/><rect x="1915.5" y="1245.5" width="3" height="4.5"/><rect x="1249" y="1199.5" width="10" height="3"/><rect x="1249" y="1149.0" width="6" height="3"/><rect x="1249" y="1098.5" width="10" height="3"/><rect x="1249" y="1048.0" width="6" height="3"/><rect x="1249" y="997.5" width="10" height="3"/><rect x="1249" y="947.0" width="6" height="3"/><rect x="1249" y="896.5" width="10" height="3"/><rect x="1249" y="846.0" width="6" height="3"/></g>
<rect x="1249" y="1199" width="698" height="4" fill="#000"/>
<rect x="1950" y="797" width="2.6" height="458.7" fill="#9c9ca8"/>
<rect x="1249" y="1252.8" width="703.6" height="2.9" fill="#61616b"/>
<g fill="#000"><rect x="1246" y="794.3" width="5.3" height="458.5"/><rect x="1947.2" y="794.3" width="2.8" height="458.5"/><rect x="1246" y="794.3" width="704" height="2.8"/><rect x="1246" y="1250" width="704" height="2.8"/></g>
<clipPath id="cpi"><rect x="1249" y="795.7" width="699.6" height="455.7"/></clipPath>
<path d="M1250.2,1150.0 L1250.2,1092.0 L1251.8,925.4 L1253.3,878.4 L1255.7,847.0 L1258.8,831.3 L1265.9,821.9 L1272.9,826.6 L1279.2,834.5 L1285.5,839.2 L1290.2,850.2 L1296.4,856.4 L1304.3,864.3 L1307.4,875.2 L1312.1,886.2 L1318.4,897.2 L1321.5,909.7 L1326.2,920.7 L1330.9,931.7 L1334.0,941.1 L1338.7,952.0 L1343.4,964.6 L1348.2,975.5 L1354.4,988.1 L1359.1,1000.6 L1365.4,1016.3 L1371.7,1028.8 L1377.9,1044.5 L1379.4,1053.8 L1387.3,1067.7 L1395.3,1083.6 L1403.3,1099.6 L1411.2,1113.5 L1419.2,1127.4 L1427.2,1137.4 L1435.1,1147.3 L1443.1,1157.3 L1451.1,1163.3 L1459.0,1171.2 L1467.0,1179.2 L1474.9,1182.2 L1482.9,1185.2 L1490.9,1188.2 L1498.8,1191.1 L1504.8,1194.1 L1518.7,1196.1 L1532.7,1196.1 L1548.6,1195.1 L1558.6,1198.1 L1568.5,1201.1 L1578.5,1202.1 L1598.4,1202.1 L1618.3,1199.1 L1640.0,1199.1 L1644.0,1197.4 L1648.0,1199.3 L1652.0,1198.2 L1656.0,1199.6 L1660.0,1199.8 L1664.0,1196.4 L1668.0,1196.1 L1672.0,1201.0 L1676.0,1197.6 L1680.0,1197.4 L1684.0,1202.0 L1688.0,1198.8 L1692.0,1201.0 L1696.0,1198.9 L1700.0,1199.8 L1704.0,1196.9 L1708.0,1199.8 L1712.0,1201.2 L1716.0,1199.1 L1720.0,1200.4 L1724.0,1200.0 L1728.0,1196.4 L1732.0,1200.5 L1736.0,1199.5 L1740.0,1197.8 L1744.0,1196.2 L1748.0,1201.2 L1752.0,1198.8 L1756.0,1200.3 L1760.0,1201.3 L1764.0,1200.3 L1768.0,1201.5 L1772.0,1198.4 L1776.0,1200.8 L1780.0,1198.7 L1784.0,1201.6 L1788.0,1201.3 L1792.0,1196.6 L1796.0,1196.8 L1800.0,1197.3 L1804.0,1201.8 L1808.0,1198.6 L1812.0,1199.8 L1816.0,1197.8 L1820.0,1199.0 L1824.0,1198.3 L1828.0,1198.1 L1832.0,1199.5 L1836.0,1199.5 L1840.0,1201.4 L1844.0,1200.1 L1848.0,1201.6 L1852.0,1201.1 L1856.0,1201.9 L1860.0,1200.0 L1864.0,1197.0 L1868.0,1201.2 L1872.0,1201.8 L1876.0,1201.4 L1880.0,1199.4 L1884.0,1200.3 L1888.0,1197.3 L1892.0,1201.0 L1896.0,1199.4 L1900.0,1197.7 L1904.0,1196.4 L1908.0,1201.1 L1912.0,1201.9 L1916.0,1196.5 L1920.0,1200.8 L1924.0,1198.5 L1928.0,1196.9 L1932.0,1197.8 L1936.0,1200.6 L1940.0,1201.2 L1944.0,1196.3 L1946.0,1199.7" fill="none" stroke="#008000" stroke-width="5" stroke-linejoin="round" stroke-linecap="round" clip-path="url(#cpi)"/>
<g font-family="Liberation Serif, Times New Roman, serif" font-weight="bold" font-size="39" fill="#000"><text x="1240.5" y="1212.5" text-anchor="end">0</text><text x="1240.5" y="1111.5" text-anchor="end">10</text><text x="1240.5" y="1009.5" text-anchor="end">20</text><text x="1240.5" y="907.3" text-anchor="end">30</text><text x="1240.5" y="806.7" text-anchor="end">40</text><text transform="translate(1300.4,1290) scale(0.93,0.97)" text-anchor="middle">1</text><text transform="translate(1365.3,1290) scale(0.93,0.97)" text-anchor="middle">2</text><text transform="translate(1430.2,1290) scale(0.93,0.97)" text-anchor="middle">3</text><text transform="translate(1495.1,1290) scale(0.93,0.97)" text-anchor="middle">4</text><text transform="translate(1560.0,1290) scale(0.93,0.97)" text-anchor="middle">5</text><text transform="translate(1624.9,1290) scale(0.93,0.97)" text-anchor="middle">6</text><text transform="translate(1689.8,1290) scale(0.93,0.97)" text-anchor="middle">7</text><text transform="translate(1754.7,1290) scale(0.93,0.97)" text-anchor="middle">8</text><text transform="translate(1819.6,1290) scale(0.93,0.97)" text-anchor="middle">9</text><text transform="translate(1884.5,1290) scale(0.93,0.97)" text-anchor="middle">10</text><text transform="translate(1949.4,1290) scale(0.93,0.97)" text-anchor="middle">11</text></g>
<text font-family="Liberation Serif, Times New Roman, serif" font-weight="bold" font-size="38" transform="translate(1600,1338.4) scale(1.05,0.92)" text-anchor="middle" fill="#000">Analysis frequency (MHz)</text>
<text font-family="Liberation Serif, Times New Roman, serif" font-weight="bold" font-size="40.7" transform="translate(1178.3,1015.8) rotate(-90)" text-anchor="middle" fill="#000">Normalized noise power (dB)</text>
<text font-family="Liberation Serif, Times New Roman, serif" font-weight="bold" font-size="39.5" x="1359.8" y="864.6" fill="#008000">(ii) Intensity noise of pump light</text>
<text font-family="Liberation Serif, Times New Roman, serif" font-weight="bold" font-size="39" x="1271" y="1177.2" fill="#000">(i) SNL</text>
</svg></body></html>
